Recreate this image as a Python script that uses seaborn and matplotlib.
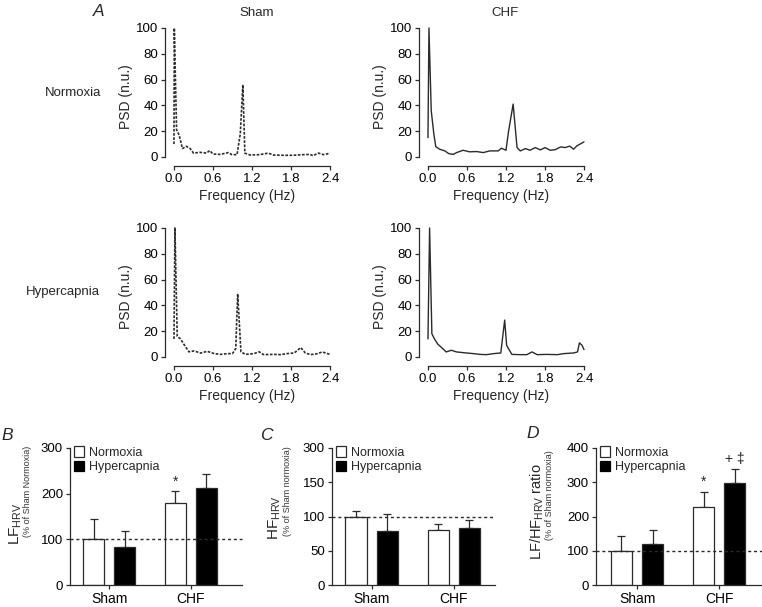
import numpy as np
import pandas as pd
import matplotlib
matplotlib.use("Agg")
import matplotlib.pyplot as plt
import seaborn as sns
from matplotlib.patches import Patch

# --- spectra ---
sham_norm_f = [0.0, 0.005, 0.04, 0.08, 0.13, 0.19, 0.25, 0.30, 0.40, 0.50, 0.55, 0.60, 0.71, 0.84, 0.89,
               0.97, 1.02, 1.06, 1.09, 1.17, 1.32, 1.45, 1.53, 1.68, 1.83, 1.99, 2.09, 2.14, 2.22, 2.30, 2.35, 2.40]
sham_norm_p = [10, 100, 21, 17, 6.5, 8.3, 6.5, 3.0, 3.6, 3.0, 5.0, 2.3, 2.0, 3.4, 1.8,
               1.8, 18, 56, 3.0, 1.5, 1.8, 3.0, 1.5, 1.3, 1.3, 1.8, 2.0, 1.0, 3.0, 1.8, 2.3, 3.0]

chf_norm_f = [0.0, 0.015, 0.05, 0.09, 0.12, 0.18, 0.26, 0.32, 0.39, 0.44, 0.54, 0.64, 0.75, 0.85, 0.95,
              1.08, 1.13, 1.20, 1.24, 1.31, 1.37, 1.42, 1.50, 1.57, 1.65, 1.73, 1.80, 1.88, 1.96, 2.04,
              2.11, 2.18, 2.24, 2.29, 2.40]
chf_norm_p = [15, 100, 36, 18, 8.0, 6.0, 4.7, 2.6, 2.0, 3.4, 5.2, 4.0, 4.2, 3.4, 4.7,
              4.7, 6.8, 5.2, 20, 41, 7.3, 4.7, 6.5, 5.2, 7.3, 5.5, 7.3, 5.2, 5.7, 7.8,
              7.3, 8.4, 6.0, 8.6, 11.7]

sham_hyp_f = [0.0, 0.015, 0.05, 0.10, 0.15, 0.23, 0.31, 0.41, 0.51, 0.62, 0.72, 0.82, 0.90, 0.95, 0.98,
              1.03, 1.10, 1.23, 1.31, 1.38, 1.54, 1.64, 1.74, 1.85, 1.95, 2.02, 2.10, 2.21, 2.28, 2.40]
sham_hyp_p = [14, 100, 16, 14, 10, 4.0, 4.7, 3.0, 4.4, 2.6, 2.0, 2.6, 2.6, 6.5, 49,
              4.0, 2.0, 2.6, 4.0, 1.8, 2.0, 1.8, 2.6, 3.1, 7.3, 3.1, 1.8, 2.6, 3.9, 2.0]

chf_hyp_f = [0.0, 0.025, 0.06, 0.10, 0.15, 0.21, 0.28, 0.36, 0.44, 0.59, 0.70, 0.80, 0.90, 1.01, 1.12,
             1.18, 1.21, 1.29, 1.42, 1.52, 1.60, 1.68, 1.83, 1.99, 2.09, 2.24, 2.30, 2.33, 2.37, 2.40]
chf_hyp_p = [14, 100, 18, 14, 10, 7.3, 3.9, 5.2, 3.9, 3.1, 2.6, 2.0, 1.8, 2.6, 3.1,
             28.6, 9.0, 2.0, 1.8, 1.8, 3.9, 1.8, 2.0, 1.8, 2.6, 3.1, 3.9, 11, 9.0, 5.7]

freq_ticks = [0.0, 0.6, 1.2, 1.8, 2.4]
psd_ticks = [0, 20, 40, 60, 80, 100]

# --- bar data ---
groups = ["Sham", "CHF"]
conditions = ["Normoxia", "Hypercapnia"]
lf_mean = {"Normoxia": [100, 180], "Hypercapnia": [84, 212]}
lf_sem = {"Normoxia": [45, 25], "Hypercapnia": [35, 30]}
hf_mean = {"Normoxia": [100, 81], "Hypercapnia": [79, 83]}
hf_sem = {"Normoxia": [8, 8], "Hypercapnia": [25, 12]}
ratio_mean = {"Normoxia": [100, 229], "Hypercapnia": [119, 297]}
ratio_sem = {"Normoxia": [42, 43], "Hypercapnia": [43, 42]}

lf_ticks = [0, 100, 200, 300]
hf_ticks = [0, 50, 100, 150, 200]
hf_ticklabels = ["0", "50", "100", "150", "300"]
ratio_ticks = [0, 100, 200, 300, 400]

sns.set_style("ticks")
plt.rcParams["font.family"] = ["Liberation Sans", "DejaVu Sans"]
plt.rcParams["mathtext.fontset"] = "custom"
plt.rcParams["mathtext.rm"] = "Liberation Sans"
plt.rcParams["mathtext.it"] = "Liberation Sans:italic"

DARK = "#2b2b2b"
W, H = 762, 607
fig = plt.figure(figsize=(W / 100, H / 100), dpi=100)


def rect(l, t, r, b):
    return [l / W, 1 - b / H, (r - l) / W, (b - t) / H]


def ftext(x, y, s, **kw):
    fig.text(x / W, 1 - y / H, s, ha="center", va="center", **kw)


def style_axes(ax, size=9.5):
    for side in ["top", "right"]:
        ax.spines[side].set_visible(False)
    for side in ["left", "bottom"]:
        ax.spines[side].set_color(DARK)
        ax.spines[side].set_linewidth(0.9)
    ax.tick_params(axis="both", length=3, width=0.9, color=DARK, labelsize=size, pad=2, labelcolor="black")


def spectrum(rc, f, p, dashed):
    ax = fig.add_axes(rect(*rc))
    sns.lineplot(x=f, y=p, ax=ax, color=DARK, lw=1.2 if dashed else 1.0,
                 linestyle=(0, (1.6, 0.9)) if dashed else "-")
    ax.set_xlim(-0.138, 2.4)
    ax.set_ylim(-7.0, 100)
    ax.set_xticks(freq_ticks)
    ax.set_xticklabels([f"{t:.1f}" for t in freq_ticks])
    ax.set_yticks(psd_ticks)
    style_axes(ax)
    ax.spines["left"].set_bounds(0, 100)
    ax.spines["bottom"].set_bounds(0, 2.4)
    ax.set_xlabel("Frequency (Hz)", fontsize=10, labelpad=3)
    ax.set_ylabel("PSD (n.u.)", fontsize=10, labelpad=2)
    for line in ax.lines:
        line.set_clip_on(False)
    return ax


spectrum((165, 28, 330, 166), sham_norm_f, sham_norm_p, True)
spectrum((419, 28, 584, 166), chf_norm_f, chf_norm_p, False)
spectrum((165, 228, 330, 366), sham_hyp_f, sham_hyp_p, True)
spectrum((419, 228, 584, 366), chf_hyp_f, chf_hyp_p, False)

ftext(99, 11, "A", fontsize=12.5, style="italic")
ftext(257, 13, "Sham", fontsize=9.5)
ftext(505, 13, "CHF", fontsize=9.5)
ftext(73, 93, "Normoxia", fontsize=9.5)
ftext(63, 292, "Hypercapnia", fontsize=9.5)


def bars(rc, xlim, means, sems, yticks, ylim, yticklabels=None, marks=None):
    ax = fig.add_axes(rect(*rc))
    rows = []
    for c in conditions:
        for g, m, s in zip(groups, means[c], sems[c]):
            rows.append({"group": g, "condition": c, "value": m, "sem": s})
    df = pd.DataFrame(rows)
    sns.barplot(data=df, x="group", y="value", hue="condition", order=groups, hue_order=conditions,
                palette={"Normoxia": "white", "Hypercapnia": "black"}, width=0.76, gap=0.32,
                errorbar=None, legend=False, ax=ax, edgecolor=DARK, linewidth=0.9, zorder=2)
    ax.axhline(100, color=DARK, ls=(0, (2.2, 2.0)), lw=1.0, zorder=3, clip_on=False)
    for patch, row in zip(ax.patches, df.itertuples()):
        x = patch.get_x() + patch.get_width() / 2
        ax.errorbar(x, row.value, yerr=[[0], [row.sem]], fmt="none", ecolor=DARK,
                    elinewidth=0.9, capsize=3, capthick=0.9, zorder=1)
        if marks and (row.group, row.condition) in marks:
            ax.annotate(marks[(row.group, row.condition)], (x, row.value + row.sem),
                        xytext=(0, 2), textcoords="offset points", ha="center", va="bottom",
                        fontsize=10, annotation_clip=False)
    ax.set_xlim(*xlim)
    ax.set_ylim(*ylim)
    ax.set_yticks(yticks)
    if yticklabels:
        ax.set_yticklabels(yticklabels)
    style_axes(ax)
    ax.tick_params(axis="x", labelsize=10, pad=2)
    ax.set_xlabel("")
    ax.set_ylabel("")
    handles = [Patch(facecolor="white", edgecolor=DARK, lw=0.9, label="Normoxia"),
               Patch(facecolor="black", edgecolor="black", lw=0.9, label="Hypercapnia")]
    ax.legend(handles=handles, loc="upper left", bbox_to_anchor=(0.0, 1.04), frameon=False,
              fontsize=9, handlelength=0.8, handleheight=0.9, handletextpad=0.4,
              labelspacing=0.15, borderaxespad=0.2, borderpad=0.1)
    return ax


bars((70, 448, 242, 585), (-0.48, 1.63), lf_mean, lf_sem, lf_ticks, (0, 300),
     marks={("CHF", "Normoxia"): "*"})
bars((332, 448, 495, 585), (-0.48, 1.50), hf_mean, hf_sem, hf_ticks, (0, 200),
     yticklabels=hf_ticklabels)
bars((596, 448, 762, 585), (-0.50, 1.52), ratio_mean, ratio_sem, ratio_ticks, (0, 400),
     marks={("CHF", "Normoxia"): "*", ("CHF", "Hypercapnia"): "+ \u2021"})

ftext(7, 435, "B", fontsize=12.5, style="italic")
ftext(266, 435, "C", fontsize=12.5, style="italic")
ftext(533, 434, "D", fontsize=12.5, style="italic")

ftext(16, 524, r"LF$_{\mathrm{HRV}}$", fontsize=11, rotation=90)
ftext(28, 491, "(% of Sham Normoxia)", fontsize=6.5, rotation=90, color="#333333")
ftext(275, 518, r"HF$_{\mathrm{HRV}}$", fontsize=11, rotation=90)
ftext(287, 491, "(% of Sham normoxia)", fontsize=6.5, rotation=90, color="#333333")
ftext(537, 512, r"LF/HF$_{\mathrm{HRV}}$ ratio", fontsize=10.5, rotation=90)
ftext(550, 495, "(% of Sham normoxia)", fontsize=6.5, rotation=90, color="#333333")

fig.savefig("out.png", dpi=100)
